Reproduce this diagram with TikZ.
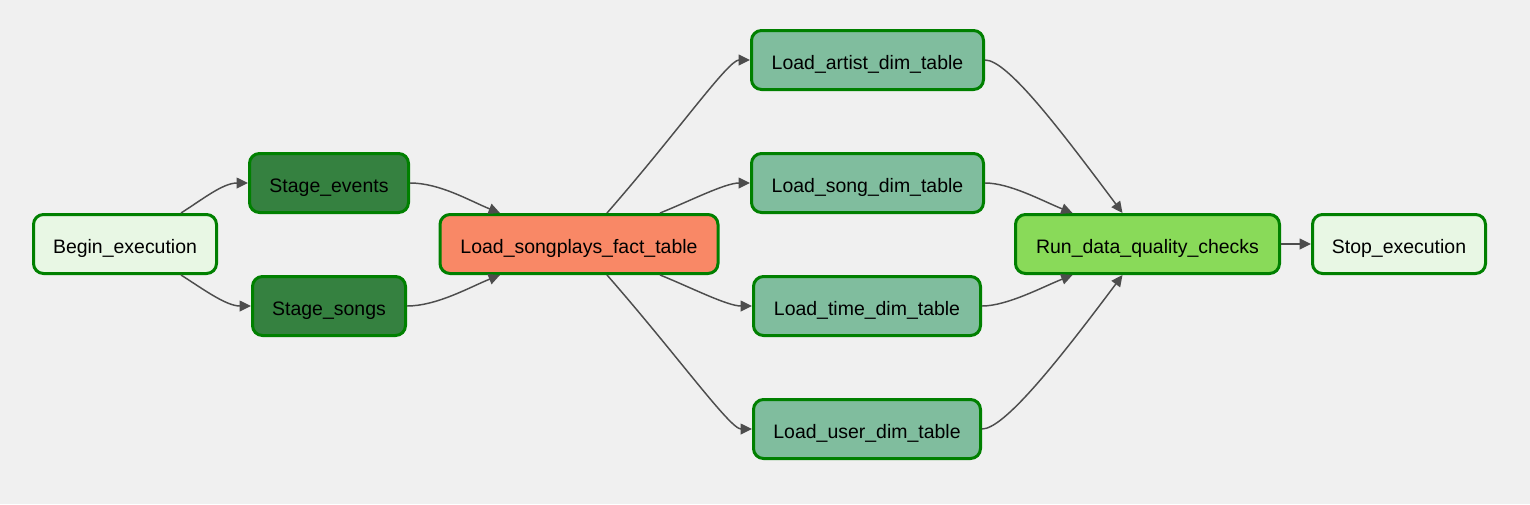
\documentclass[tikz,border=0pt]{standalone}
\usepackage{fontspec}
\setmainfont{Liberation Sans}
\usepackage{tikz}
\usetikzlibrary{arrows.meta, calc}
\definecolor{bggray}{RGB}{240,240,240}
\definecolor{taskgreen}{RGB}{0,128,0}
\definecolor{edgegray}{RGB}{77,77,77}
\definecolor{dummyfill}{RGB}{232,247,228}
\definecolor{stagefill}{RGB}{53,129,64}
\definecolor{factfill}{RGB}{249,136,102}
\definecolor{dimfill}{RGB}{128,189,158}
\definecolor{checkfill}{RGB}{137,218,89}
\tikzset{
  task/.style={rectangle, draw=taskgreen, line width=2.25pt,
    rounded corners=7.5pt, minimum height=44.25pt, inner sep=0pt,
    text height=14.5pt, text depth=0pt,
    align=center, text=black, font=\fontsize{14.6}{17}\selectfont},
  dummytask/.style={task, fill=dummyfill},
  stagetask/.style={task, fill=stagefill},
  facttask/.style={task, fill=factfill},
  dimtask/.style={task, fill=dimfill},
  checktask/.style={task, fill=checkfill},
  arrow/.style={-{Triangle[length=8.5pt, width=8pt]}, line width=1.1pt, color=edgegray}
}

\begin{document}
\begin{tikzpicture}[x=0.75pt, y=-0.75pt]
  % Background and page size
  \fill[bggray] (0,0) rectangle (1530,504);
  \useasboundingbox (0,0) rectangle (1530,504);

  % Tasks
  \node[dummytask, minimum width=137.25pt] (begin) at (125,244) {Begin\_execution};
  \node[stagetask, minimum width=119.25pt] (events) at (329,183) {Stage\_events};
  \node[stagetask, minimum width=114.75pt] (songs) at (329,306) {Stage\_songs};
  \node[facttask, minimum width=208.5pt] (songplays) at (579,244) {Load\_songplays\_fact\_table};
  \node[dimtask, minimum width=174pt] (artist) at (867.5,60) {Load\_artist\_dim\_table};
  \node[dimtask, minimum width=174pt] (song) at (867.5,183) {Load\_song\_dim\_table};
  \node[dimtask, minimum width=170.25pt] (time) at (867,306) {Load\_time\_dim\_table};
  \node[dimtask, minimum width=170.25pt] (user) at (867,429) {Load\_user\_dim\_table};
  \node[checktask, minimum width=198pt] (checks) at (1147.5,244) {Run\_data\_quality\_checks};
  \node[dummytask, minimum width=129.75pt] (stop) at (1399,244) {Stop\_execution};

  % Staging
  \draw[arrow] ($(begin.north)+(56,0)$) .. controls +(22,-14) and +(-25,0) .. (events.west);
  \draw[arrow] ($(begin.south)+(56,0)$) .. controls +(22,14) and +(-25,0) .. (songs.west);
  \draw[arrow] (events.east) .. controls +(30,0) and +(-30,-12) .. ($(songplays.north)+(-79,0)$);
  \draw[arrow] (songs.east) .. controls +(30,0) and +(-30,12) .. ($(songplays.south)+(-79,0)$);

  % Dimension loads
  \draw[arrow] ($(songplays.north)+(28,0)$) .. controls +(70,-80) and +(-22,0) .. (artist.west);
  \draw[arrow] ($(songplays.north)+(81,0)$) .. controls +(30,-12) and +(-25,0) .. (song.west);
  \draw[arrow] ($(songplays.south)+(81,0)$) .. controls +(30,12) and +(-25,0) .. (time.west);
  \draw[arrow] ($(songplays.south)+(28,0)$) .. controls +(70,80) and +(-22,0) .. (user.west);

  % Quality checks
  \draw[arrow] (artist.east) .. controls +(22,0) and +(-65,-87) .. ($(checks.north)+(-25,0)$);
  \draw[arrow] (song.east) .. controls +(25,0) and +(-30,-12) .. ($(checks.north)+(-75,0)$);
  \draw[arrow] (time.east) .. controls +(25,0) and +(-30,12) .. ($(checks.south)+(-75,0)$);
  \draw[arrow] (user.east) .. controls +(22,0) and +(-65,87) .. ($(checks.south)+(-25,0)$);
  \draw[arrow] (checks) -- (stop);
\end{tikzpicture}
\end{document}
